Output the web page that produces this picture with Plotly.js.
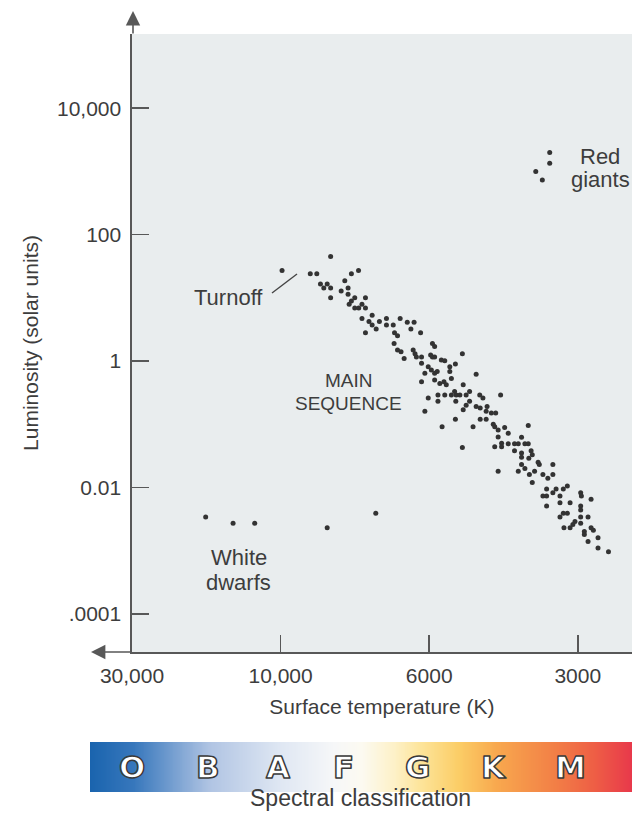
<!DOCTYPE html>
<html><head><meta charset="utf-8">
<script src="https://cdn.plot.ly/plotly-3.0.1.min.js"></script>
<style>html,body{margin:0;padding:0;background:#fff}#chart{width:632px;height:817px}</style>
</head><body><div id="chart"></div>
<script>
// ---- axis ticks ----
const tempTicks = [30000, 10000, 6000, 3000];
const tempTickLabels = ['30,000', '10,000', '6000', '3000'];
const lumTicks = [1e4, 100, 1, 0.01, 1e-4];
const lumTickLabels = ['10,000', '100', '1', '0.01', '.0001'];

// ---- stars (surface temperature K, luminosity in solar units) ----
const mainSeqTemp = [9950,8420,9030,8830,8720,8620,8520,8420,8420,7840,7650,8020,8120,7930,7930,7840,7750,7900,7750,7645,
7560,7470,7470,7560,7300,7380,7300,7200,7120,6950,6950,7470,6790,6630,6760,6690,6770,6690,6610,6540,
6470,6320,6390,6180,6340,6300,6270,6160,5910,5850,5960,5910,5850,5140,6160,6090,6160,6020,5940,5850,
5780,5670,5580,5450,5450,5310,5850,5710,5600,5540,5410,4820,5120,6020,5760,5760,5580,5410,5330,5290,
5200,5050,4970,6090,5300,5050,4970,5120,4740,4670,4300,4820,4730,4580,4600,4490,4400,5310,4730,4600,
4450,4420,4890,5650,5140,4350,4350,4220,4150,4280,4420,4280,4150,3780,4030,3960,3900,3840,3780,4030,
3900,3900,3770,3730,3710,4350,3960,3900,3840,3760,3710,3670,3610,3590,3530,3450,3370,3370,3470,3320,
3370,3210,3150,3530,3470,3260,3470,3260,3110,2960,2950,2820,2960,2960,3260,3210,3150,2960,2860,3040,
3070,3200,3110,2960,2910,2910,2820,2790,2860,2730,2730,2600];
const mainSeqLum = [27,45,24,24,16.5,14.3,16.5,14.3,10,24,27,18.6,12.8,14.3,11.4,8.9,10,7.9,6.9,6.9,
7.9,10,6.9,4.7,5.3,4.2,3.7,3.2,4.2,4.7,3.7,2.8,3.7,4.7,2.8,2.5,1.9,1.5,1.4,1.1,
4.1,4.1,3.2,2.8,1.5,1.3,1.16,1.16,1.9,1.7,1.24,1.16,1.16,1.3,0.92,0.64,0.47,0.81,0.72,0.64,
0.68,1.04,1.01,0.81,0.68,0.9,0.5,0.44,0.47,0.42,0.53,0.62,0.42,0.26,0.29,0.23,0.29,0.29,0.33,0.29,
0.29,0.29,0.33,0.16,0.23,0.2,0.23,0.17,0.29,0.26,0.29,0.19,0.18,0.19,0.16,0.15,0.15,0.12,0.12,0.12,
0.1,0.091,0.091,0.091,0.043,0.081,0.063,0.089,0.072,0.05,0.044,0.044,0.049,0.095,0.049,0.049,0.062,0.049,0.049,0.038,
0.035,0.03,0.029,0.038,0.033,0.018,0.018,0.023,0.02,0.016,0.012,0.018,0.025,0.023,0.016,0.014,0.016,0.023,0.0094,0.0094,
0.0082,0.0094,0.0105,0.0073,0.0073,0.0073,0.0051,0.0057,0.0057,0.0082,0.0073,0.0065,0.0051,0.0044,0.0034,0.0039,0.0039,0.0034,0.0034,0.0029,
0.0026,0.0023,0.0023,0.0027,0.002,0.0018,0.0023,0.0021,0.0014,0.0016,0.0011,0.00096];
const giantTemp = [3420, 3420, 3650, 3540];
const giantLum = [2000, 1340, 1000, 730];
const dwarfTemp = [17400, 14210, 12110, 8520, 7210];
const dwarfLum = [0.0034, 0.0027, 0.0027, 0.0023, 0.0039];

// ---- spectral bar ----
const spectralClasses = ['O', 'B', 'A', 'F', 'G', 'K', 'M'];
const spectralColorscale = [
  [0.00, '#1a64ae'], [0.08, '#3777bc'], [0.22, '#b0c4e3'], [0.35, '#dfe7f3'],
  [0.45, '#f6f7f8'], [0.50, '#fcfaf1'], [0.56, '#fdf1c8'], [0.61, '#fde499'],
  [0.68, '#fbcd66'], [0.75, '#f8a84e'], [0.86, '#f27e46'], [0.93, '#ee5e45'], [1.00, '#e8384b']
];

// piecewise-logarithmic temperature scale: each labelled temperature sits at 0,1,2,3
function tempToScale(T) {
  const lg = Math.log10;
  let i = 0;
  while (i < tempTicks.length - 2 && T < tempTicks[i + 1]) i++;
  const a = lg(tempTicks[i]), b = lg(tempTicks[i + 1]);
  return i + (a - lg(T)) / (a - b);
}

const txtColor = '#3d3d3d';
const axColor = '#585858';
const font = 'Liberation Sans, Arial, Helvetica, sans-serif';

const dot = {size: 5, color: '#333333'};
const traces = [
  {x: mainSeqTemp.map(tempToScale), y: mainSeqLum, type: 'scatter', mode: 'markers', marker: dot, hoverinfo: 'skip', xaxis: 'x', yaxis: 'y'},
  {x: giantTemp.map(tempToScale), y: giantLum, type: 'scatter', mode: 'markers', marker: dot, hoverinfo: 'skip', xaxis: 'x', yaxis: 'y'},
  {x: dwarfTemp.map(tempToScale), y: dwarfLum, type: 'scatter', mode: 'markers', marker: dot, hoverinfo: 'skip', xaxis: 'x', yaxis: 'y'}
];
const barN = 300;
const barX = Array.from({length: barN}, (_, i) => i / (barN - 1));
traces.push({type: 'heatmap', x: barX, y: [0], z: [barX], colorscale: spectralColorscale,
  zmin: 0, zmax: 1, showscale: false, zsmooth: 'best', hoverinfo: 'skip', xaxis: 'x2', yaxis: 'y2'});

// paper helpers (pixel -> paper), margins l=90,t=34,b=10
const PX = px => (px - 90) / 542;
const PY = py => (807 - py) / 773;

const letterX = [132, 208, 278, 343, 417, 493, 570];
const ann = [];
function label(text, px, py, size) {
  ann.push({text, x: PX(px), y: PY(py), xref: 'paper', yref: 'paper', showarrow: false,
    xanchor: 'center', yanchor: 'middle', font: {family: font, size: size, color: txtColor}});
}
label('Red', 600, 156, 22);
label('giants', 600, 180, 22);
label('White', 238.5, 557, 22);
label('dwarfs', 238.5, 582, 22);
label('Turnoff', 228, 297, 22);
label('MAIN', 348.5, 380, 19);
label('SEQUENCE', 348.5, 403, 19);
label('Spectral classification', 360, 798, 23);
spectralClasses.forEach((c, i) => {
  ann.push({text: c, x: PX(letterX[i]), y: PY(767), xref: 'paper', yref: 'paper', showarrow: false,
    xanchor: 'center', yanchor: 'middle', font: {family: 'DejaVu Sans, sans-serif', size: 31, color: '#ffffff', weight: 'bold'}});
});
// axis arrows
ann.push({text: '', x: PX(133), y: PY(11), xref: 'paper', yref: 'paper', showarrow: true,
  ax: 0, ay: 24, arrowhead: 2, arrowsize: 1.8, arrowwidth: 1.6, arrowcolor: axColor, standoff: 0});
ann.push({text: '', x: PX(91), y: PY(652), xref: 'paper', yref: 'paper', showarrow: true,
  ax: 42, ay: 0, arrowhead: 2, arrowsize: 1.8, arrowwidth: 1.6, arrowcolor: axColor, standoff: 0});

const layout = {
  width: 632, height: 817,
  margin: {l: 90, r: 0, t: 34, b: 10},
  paper_bgcolor: '#ffffff',
  plot_bgcolor: '#e9edee',
  showlegend: false,
  font: {family: font, color: txtColor, size: 21},
  xaxis: {
    domain: [PX(132), 1], range: [0, 500 / 148.6], type: 'linear',
    tickvals: tempTicks.map((t, i) => i), ticktext: tempTickLabels,
    ticks: 'inside', ticklen: 17, tickwidth: 1.6, tickcolor: axColor,
    showline: true, linecolor: axColor, linewidth: 1.6, mirror: false,
    showgrid: false, zeroline: false, ticklabelstandoff: 4,
    tickfont: {family: font, size: 21, color: txtColor},
    title: {text: 'Surface temperature (K)', font: {family: font, size: 21, color: txtColor}, standoff: 13},
    fixedrange: true, anchor: 'y'
  },
  yaxis: {
    domain: [PY(652), 1], type: 'log', range: [-4.604, 5.174],
    tickvals: lumTicks, ticktext: lumTickLabels,
    ticks: 'inside', ticklen: 17, tickwidth: 1.6, tickcolor: axColor,
    showline: true, linecolor: axColor, linewidth: 1.6,
    showgrid: false, zeroline: false, ticklabelstandoff: 5,
    tickfont: {family: font, size: 21, color: txtColor},
    title: {text: 'Luminosity (solar units)', font: {family: font, size: 21, color: txtColor}, standoff: 12},
    fixedrange: true, anchor: 'x'
  },
  xaxis2: {domain: [0, 1], range: [0, 1], visible: false, fixedrange: true, anchor: 'y2'},
  yaxis2: {domain: [PY(792), PY(742)], range: [-0.5, 0.5], visible: false, fixedrange: true, anchor: 'x2'},
  annotations: ann,
  shapes: [{type: 'line', xref: 'paper', yref: 'paper', x0: PX(272), y0: PY(293), x1: PX(297), y1: PY(274),
    line: {color: '#444444', width: 1.4}}]
};

Plotly.newPlot('chart', traces, layout, {displayModeBar: false, staticPlot: true}).then(() => {
  document.querySelectorAll('g.annotation text.annotation-text').forEach(el => {
    if (spectralClasses.includes(el.textContent.trim())) {
      el.style.fill = '#ffffff';
      el.style.stroke = '#3a3a3a';
      el.style.strokeWidth = '1.5px';
      el.style.strokeLinejoin = 'round';
    }
  });
});
</script>
</body></html>
